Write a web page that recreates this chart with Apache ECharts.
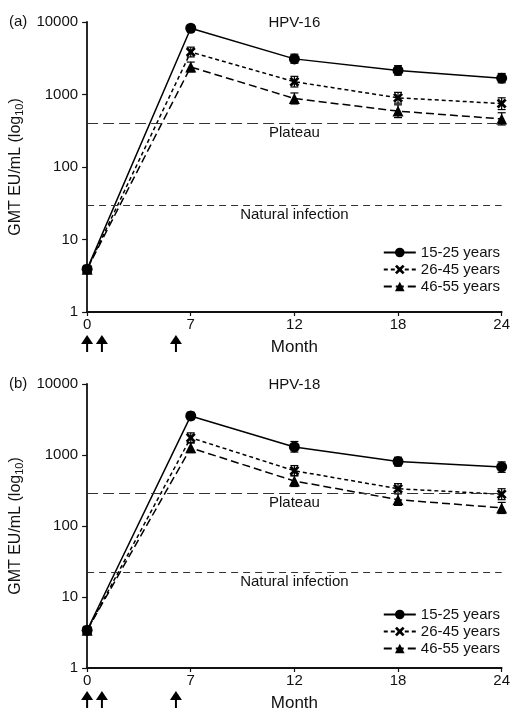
<!DOCTYPE html>
<html>
<head>
<meta charset="utf-8">
<script src="https://cdn.jsdelivr.net/npm/echarts@6/dist/echarts.min.js"></script>
<style>
  html, body { margin: 0; padding: 0; background: #fff; }
  #main { width: 513px; height: 713px; }
</style>
</head>
<body>
<div id="main"></div>
<script>
// months on the x axis (drawn evenly spaced, like the original figure)
var monthTicks = [0, 7, 12, 18, 24];
var doseMonths = [0, 1, 6];
var groups = ["15-25 years", "26-45 years", "46-55 years"];

// HPV-16 GMT values
var hpv16_15 = [3.9, 8200, 3100, 2150, 1680];
var hpv16_26 = [3.9, 3850, 1500, 900, 750];
var hpv16_46 = [3.9, 2400, 880, 590, 460];
var hpv16Lo_15 = [3.6, 7500, 2700, 1850, 1450];
var hpv16Hi_15 = [4.3, 9000, 3600, 2500, 1950];
var hpv16Lo_26 = [3.6, 3300, 1270, 760, 620];
var hpv16Hi_26 = [4.3, 4500, 1780, 1070, 900];
var hpv16Lo_46 = [3.6, 2050, 740, 480, 380];
var hpv16Hi_46 = [4.3, 2800, 1050, 720, 560];
var hpv16Plateau = 400;
var hpv16Natural = 30;

// HPV-18 GMT values
var hpv18_15 = [3.4, 3550, 1300, 810, 680];
var hpv18_26 = [3.4, 1750, 600, 335, 280];
var hpv18_46 = [3.4, 1260, 430, 235, 180];
var hpv18Lo_15 = [3.1, 3150, 1100, 700, 570];
var hpv18Hi_15 = [3.8, 4000, 1550, 930, 800];
var hpv18Lo_26 = [3.1, 1500, 510, 285, 235];
var hpv18Hi_26 = [3.8, 2050, 710, 395, 335];
var hpv18Lo_46 = [3.1, 1080, 360, 195, 150];
var hpv18Hi_46 = [3.8, 1470, 510, 285, 215];
var hpv18Plateau = 285;
var hpv18Natural = 22;

var FONT = "Liberation Sans, Arial, sans-serif";
var crossPath = "path://M0,2 L2,0 L5,3 L8,0 L10,2 L7,5 L10,8 L8,10 L5,7 L2,10 L0,8 L3,5 Z";

// month -> position on the evenly spaced axis
function monthPos(m) {
  for (var i = 0; i < monthTicks.length - 1; i++) {
    if (m <= monthTicks[i + 1]) {
      return i + (m - monthTicks[i]) / (monthTicks[i + 1] - monthTicks[i]);
    }
  }
  return monthTicks.length - 1;
}

var lineDefs = [
  { symbol: "circle", size: 11, type: "solid" },
  { symbol: crossPath, size: 10, type: [4, 3] },
  { symbol: "triangle", size: 11, type: [8, 4] }
];

function panelSeries(p, vals, los, his, plateau, natural) {
  var out = [];
  vals.forEach(function (v, k) {
    out.push({
      name: groups[k],
      type: "line",
      xAxisIndex: p,
      yAxisIndex: p,
      symbol: lineDefs[k].symbol,
      symbolSize: lineDefs[k].size,
      itemStyle: { color: "#000" },
      lineStyle: { color: "#000", width: 1.5, type: lineDefs[k].type },
      data: monthTicks.map(function (m, i) { return [monthPos(m), v[i]]; }),
      z: 3
    });
    out.push({
      type: "custom",
      xAxisIndex: p,
      yAxisIndex: p,
      data: monthTicks.map(function (m, i) { return [monthPos(m), los[k][i], his[k][i]]; }),
      renderItem: function (params, api) {
        var lo = api.coord([api.value(0), api.value(1)]);
        var hi = api.coord([api.value(0), api.value(2)]);
        var w = 4;
        var st = { stroke: "#000", lineWidth: 1.2 };
        return {
          type: "group",
          children: [
            { type: "line", shape: { x1: lo[0], y1: lo[1], x2: hi[0], y2: hi[1] }, style: st },
            { type: "line", shape: { x1: lo[0] - w, y1: lo[1], x2: lo[0] + w, y2: lo[1] }, style: st },
            { type: "line", shape: { x1: hi[0] - w, y1: hi[1], x2: hi[0] + w, y2: hi[1] }, style: st }
          ]
        };
      },
      silent: true,
      z: 2
    });
  });
  out.push({
    type: "line",
    xAxisIndex: p,
    yAxisIndex: p,
    data: [],
    silent: true,
    markLine: {
      symbol: "none",
      silent: true,
      data: [
        { yAxis: plateau, lineStyle: { type: [11, 5] },
          label: { formatter: "Plateau" } },
        { yAxis: natural, lineStyle: { type: [7, 5] },
          label: { formatter: "Natural infection" } }
      ],
      lineStyle: { color: "#333", width: 1 },
      label: {
        position: "insideMiddleBottom", distance: 2,
        color: "#111", fontSize: 15, fontFamily: FONT
      }
    },
    z: 1
  });
  return out;
}

function xAxisFor(p) {
  return {
    type: "value",
    gridIndex: p,
    min: 0,
    max: monthTicks.length - 1,
    interval: 1,
    name: "Month",
    nameLocation: "middle",
    nameGap: 27,
    nameTextStyle: { fontSize: 17, color: "#111", fontFamily: FONT },
    axisLine: { lineStyle: { color: "#111", width: 1.8 } },
    axisTick: { show: true, length: 4, lineStyle: { color: "#111", width: 1.2 } },
    axisLabel: {
      margin: 5, fontSize: 15, color: "#111", fontFamily: FONT,
      formatter: function (v) { return String(monthTicks[v]); }
    },
    splitLine: { show: false }
  };
}

function yAxisFor(p) {
  return {
    type: "log",
    logBase: 10,
    gridIndex: p,
    min: 1,
    max: 10000,
    name: "GMT EU/mL (log{sub|10})",
    nameLocation: "middle",
    nameGap: 59,
    nameTextStyle: {
      fontSize: 16, color: "#111", fontFamily: FONT,
      rich: { sub: { fontSize: 11, color: "#111", fontFamily: FONT, padding: [8, 0, 0, 0] } }
    },
    axisLine: { show: true, lineStyle: { color: "#111", width: 1.8 } },
    axisTick: { show: true, length: 5, lineStyle: { color: "#111", width: 1.2 } },
    axisLabel: {
      margin: 9, fontSize: 15, color: "#111", fontFamily: FONT,
      formatter: function (v) { return String(Math.round(v)); }
    },
    splitLine: { show: false }
  };
}

function legendFor(top) {
  return {
    data: groups,
    orient: "vertical",
    right: 8,
    top: top,
    itemWidth: 32,
    itemHeight: 12,
    itemGap: 2,
    textStyle: { fontSize: 15, color: "#111", fontFamily: FONT },
    selectedMode: false
  };
}

var chart = echarts.init(document.getElementById("main"));
var series = []
  .concat(panelSeries(0, [hpv16_15, hpv16_26, hpv16_46],
    [hpv16Lo_15, hpv16Lo_26, hpv16Lo_46], [hpv16Hi_15, hpv16Hi_26, hpv16Hi_46],
    hpv16Plateau, hpv16Natural))
  .concat(panelSeries(1, [hpv18_15, hpv18_26, hpv18_46],
    [hpv18Lo_15, hpv18Lo_26, hpv18Lo_46], [hpv18Hi_15, hpv18Hi_26, hpv18Hi_46],
    hpv18Plateau, hpv18Natural));

chart.setOption({
  animation: false,
  backgroundColor: "#fff",
  grid: [
    { left: 87, right: 8, top: 22, height: 290 },
    { left: 87, right: 8, top: 384, height: 290 }
  ],
  xAxis: [xAxisFor(0), xAxisFor(1)],
  yAxis: [yAxisFor(0), yAxisFor(1)],
  legend: [legendFor(240), legendFor(602)],
  series: series
});

// panel labels, serotype titles and dose arrows
var graphics = [];
var panels = [
  { letter: "(a)", title: "HPV-16" },
  { letter: "(b)", title: "HPV-18" }
];
panels.forEach(function (pn, p) {
  var topY = chart.convertToPixel({ yAxisIndex: p }, 10000);
  var baseY = chart.convertToPixel({ yAxisIndex: p }, 1);
  var midX = chart.convertToPixel({ xAxisIndex: p }, monthPos(12));
  graphics.push({
    type: "text", left: 9, top: topY - 8,
    style: { text: pn.letter, fontSize: 15, fill: "#111", fontFamily: FONT }
  });
  graphics.push({
    type: "text", x: midX, y: topY + 1,
    style: { text: pn.title, fontSize: 15, fill: "#111", fontFamily: FONT,
      textAlign: "center", textVerticalAlign: "middle" }
  });
  doseMonths.forEach(function (m) {
    var ax = chart.convertToPixel({ xAxisIndex: p }, monthPos(m));
    var y0 = baseY + 23;
    graphics.push({
      type: "polygon",
      shape: { points: [[ax, y0], [ax - 6, y0 + 9], [ax + 6, y0 + 9]] },
      style: { fill: "#000" }
    });
    graphics.push({
      type: "line",
      shape: { x1: ax, y1: y0 + 8, x2: ax, y2: y0 + 17 },
      style: { stroke: "#000", lineWidth: 2 }
    });
  });
});
chart.setOption({ graphic: graphics });
</script>
</body>
</html>
